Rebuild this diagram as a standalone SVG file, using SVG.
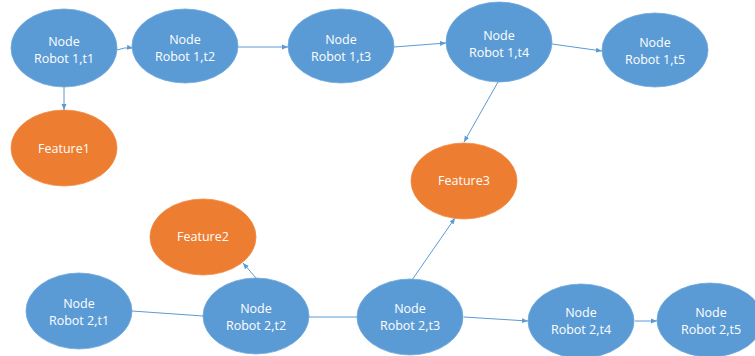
<svg xmlns="http://www.w3.org/2000/svg" width="755" height="356" viewBox="0 0 755 356">
  <style>
    .node ellipse { fill: #5B9BD5; stroke: #6FA8DC; stroke-width: 0.8; }
    .feat ellipse { fill: #ED7D31; stroke: #F08A45; stroke-width: 0.8; }
    text { font-family: "Open Sans", "Liberation Sans", sans-serif; font-size: 12.5px; fill: #FFFFFF; text-anchor: middle; }
    .edge { fill: none; stroke: #5B9BD5; stroke-width: 1; }
  </style>
  <defs>
    <marker id="arrow" markerUnits="userSpaceOnUse" markerWidth="6" markerHeight="6" viewBox="0 0 6 6" refX="6" refY="3" orient="auto">
      <path d="M0,0.5 L6,3 L0,5.5 Z" fill="#5B9BD5"/>
    </marker>
  </defs>
  <rect width="755" height="356" fill="#FFFFFF"/>

  <g id="connectors">
    <path class="edge" d="M117,50 Q124,47 133,48" marker-end="url(#arrow)"/>
    <line class="edge" x1="238" y1="47" x2="288" y2="47" marker-end="url(#arrow)"/>
    <line class="edge" x1="394" y1="47" x2="446" y2="43" marker-end="url(#arrow)"/>
    <line class="edge" x1="552" y1="44" x2="602" y2="51" marker-end="url(#arrow)"/>
    <line class="edge" x1="64" y1="87" x2="64" y2="110" marker-end="url(#arrow)"/>
    <line class="edge" x1="498" y1="82" x2="464" y2="142" marker-end="url(#arrow)"/>
    <line class="edge" x1="132" y1="311" x2="203" y2="316"/>
    <line class="edge" x1="256" y1="278" x2="243" y2="263" marker-end="url(#arrow)"/>
    <line class="edge" x1="309" y1="317" x2="357" y2="317"/>
    <line class="edge" x1="412" y1="280" x2="455" y2="218" marker-end="url(#arrow)"/>
    <line class="edge" x1="464" y1="317" x2="528" y2="321" marker-end="url(#arrow)"/>
    <line class="edge" x1="635" y1="321" x2="657" y2="321" marker-end="url(#arrow)"/>
  </g>

  <g id="r1t1" class="node">
    <ellipse cx="64" cy="48" rx="53" ry="39"/>
    <text x="64" y="46">Node</text>
    <text x="64" y="63">Robot 1,t1</text>
  </g>
  <g id="r1t2" class="node">
    <ellipse cx="185" cy="46" rx="53" ry="37"/>
    <text x="185" y="44">Node</text>
    <text x="185" y="61">Robot 1,t2</text>
  </g>
  <g id="r1t3" class="node">
    <ellipse cx="341" cy="46" rx="53" ry="37"/>
    <text x="341" y="44">Node</text>
    <text x="341" y="61">Robot 1,t3</text>
  </g>
  <g id="r1t4" class="node">
    <ellipse cx="499" cy="42" rx="53" ry="40"/>
    <text x="499" y="40">Node</text>
    <text x="499" y="57">Robot 1,t4</text>
  </g>
  <g id="r1t5" class="node">
    <ellipse cx="655" cy="50" rx="53" ry="37"/>
    <text x="655" y="47">Node</text>
    <text x="655" y="64">Robot 1,t5</text>
  </g>

  <g id="feature1" class="feat">
    <ellipse cx="64" cy="148" rx="53" ry="38"/>
    <text x="64" y="153">Feature1</text>
  </g>
  <g id="feature2" class="feat">
    <ellipse cx="203" cy="237" rx="53" ry="38"/>
    <text x="203" y="241">Feature2</text>
  </g>
  <g id="feature3" class="feat">
    <ellipse cx="464" cy="181" rx="53" ry="38"/>
    <text x="464" y="185">Feature3</text>
  </g>

  <g id="r2t1" class="node">
    <ellipse cx="79" cy="311" rx="53" ry="38"/>
    <text x="79" y="308">Node</text>
    <text x="79" y="325">Robot 2,t1</text>
  </g>
  <g id="r2t2" class="node">
    <ellipse cx="256" cy="316" rx="53" ry="38"/>
    <text x="256" y="313">Node</text>
    <text x="256" y="330">Robot 2,t2</text>
  </g>
  <g id="r2t3" class="node">
    <ellipse cx="410" cy="317" rx="53" ry="38"/>
    <text x="410" y="313">Node</text>
    <text x="410" y="330">Robot 2,t3</text>
  </g>
  <g id="r2t4" class="node">
    <ellipse cx="581" cy="321" rx="53" ry="37"/>
    <text x="581" y="317">Node</text>
    <text x="581" y="334">Robot 2,t4</text>
  </g>
  <g id="r2t5" class="node">
    <ellipse cx="710" cy="320" rx="53" ry="37"/>
    <text x="711" y="317">Node</text>
    <text x="711" y="334">Robot 2,t5</text>
  </g>
</svg>
